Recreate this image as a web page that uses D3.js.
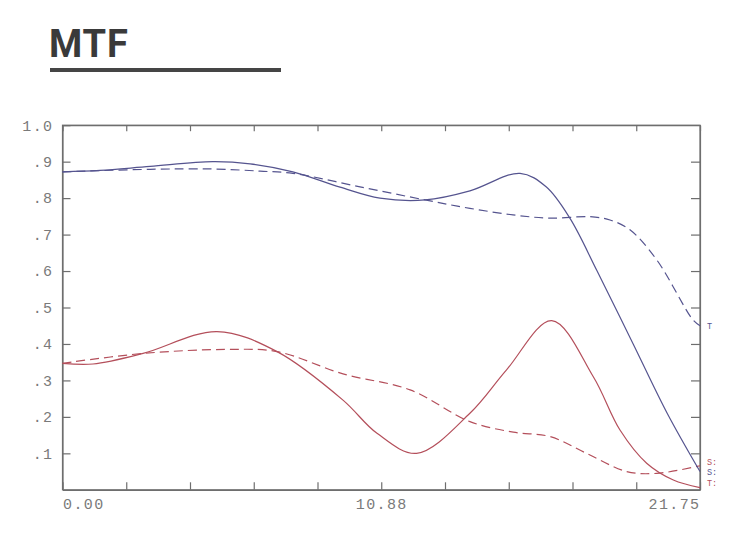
<!DOCTYPE html>
<html>
<head>
<meta charset="utf-8">
<script src="https://cdn.jsdelivr.net/npm/d3@7/dist/d3.min.js"></script>
<style>
  html, body { margin: 0; padding: 0; background: #fff; }
  svg { display: block; }
</style>
</head>
<body>
<svg id="chart" width="751" height="539"></svg>
<script>
// ---- data ----
const title = "MTF";
const xTickValues = [0, 2.175, 4.35, 6.525, 8.7, 10.875, 13.05, 15.225, 17.4, 19.575, 21.75];
const xTickLabels = {0: "0.00", 5: "10.88", 10: "21.75"};
const yTickValues = [0.1, 0.2, 0.3, 0.4, 0.5, 0.6, 0.7, 0.8, 0.9, 1.0];
const yTickLabels = [".1", ".2", ".3", ".4", ".5", ".6", ".7", ".8", ".9", "1.0"];

const blueSolidX = [0, 1.28, 2.99, 5.13, 6.40, 7.86, 9.47, 10.83, 12.37, 13.9, 15.61, 16.5, 17.31, 18.24, 19.47, 20.63, 21.75];
const blueSolidY = [0.872, 0.876, 0.887, 0.900, 0.894, 0.872, 0.830, 0.800, 0.795, 0.820, 0.868, 0.831, 0.745, 0.600, 0.400, 0.210, 0.050];

const blueDashX = [0, 2.99, 5.13, 6.74, 7.86, 10.15, 12.37, 13.9, 15.37, 16.63, 18.0, 18.68, 19.36, 20.28, 21.51, 21.75];
const blueDashY = [0.872, 0.879, 0.880, 0.874, 0.868, 0.831, 0.795, 0.772, 0.754, 0.745, 0.749, 0.740, 0.713, 0.630, 0.466, 0.450];

const redSolidX = [0, 1.04, 2.75, 5.27, 7.32, 9.57, 10.73, 12.08, 13.9, 15.15, 16.69, 18.11, 19.02, 19.93, 20.84, 21.75];
const redSolidY = [0.347, 0.345, 0.374, 0.434, 0.379, 0.246, 0.155, 0.100, 0.210, 0.329, 0.464, 0.310, 0.164, 0.073, 0.027, 0.006];

const redDashX = [0, 2.75, 5.61, 7.32, 9.57, 11.86, 13.9, 15.38, 16.63, 17.88, 19.25, 20.27, 21.75];
const redDashY = [0.347, 0.374, 0.385, 0.379, 0.318, 0.274, 0.187, 0.158, 0.146, 0.100, 0.050, 0.045, 0.066];

const endLabels = [
  {text: "T", value: 0.45, color: "blue"},
  {text: "S:", value: 0.076, color: "red"},
  {text: "S:", value: 0.049, color: "blue"},
  {text: "T:", value: 0.019, color: "red"}
];

// ---- styles ----
const BLUE = "#55548f";
const RED = "#b44f5b";
const AXIS = "#6e6e6e";
const colorOf = c => c === "blue" ? BLUE : RED;

const svg = d3.select("#chart");

// Title
svg.append("text")
  .attr("x", 49).attr("y", 57)
  .attr("font-family", "Roboto, 'Noto Sans', sans-serif")
  .attr("font-weight", 700)
  .attr("font-size", 38)
  .attr("letter-spacing", 0.8)
  .attr("fill", "#3a3a3a")
  .text(title);
svg.append("rect")
  .attr("x", 50).attr("y", 68).attr("width", 231).attr("height", 4)
  .attr("fill", "#454545");

// Scales
const x = d3.scaleLinear().domain([0, 21.75]).range([62.5, 700]);
const y = d3.scaleLinear().domain([0, 1]).range([489.8, 125.2]);

const fontFam = "'Liberation Mono', 'DejaVu Sans Mono', monospace";

// Frame
svg.append("rect")
  .attr("x", x(0)).attr("y", y(1))
  .attr("width", x(21.75) - x(0)).attr("height", y(0) - y(1))
  .attr("fill", "none").attr("stroke", AXIS).attr("stroke-width", 1.2);

// Bottom axis
const gB = svg.append("g").attr("transform", `translate(0,${y(0)})`)
  .call(d3.axisBottom(x).tickValues(xTickValues).tickSizeInner(-7.5).tickSizeOuter(0).tickPadding(9)
    .tickFormat((d, i) => xTickLabels[i] || ""));
gB.selectAll("text")
  .attr("font-family", fontFam).attr("font-size", 15).attr("fill", "#7a7a7a")
  .attr("letter-spacing", 1.4)
  .attr("text-anchor", (d, i) => i === 0 ? "start" : (i === 10 ? "end" : "middle"));

// Top axis
svg.append("g").attr("transform", `translate(0,${y(1)})`)
  .call(d3.axisTop(x).tickValues(xTickValues).tickSizeInner(-6).tickSizeOuter(0).tickFormat(""));

// Left axis
const gL = svg.append("g").attr("transform", `translate(${x(0)},0)`)
  .call(d3.axisLeft(y).tickValues(yTickValues).tickSizeInner(-8).tickSizeOuter(0).tickPadding(9)
    .tickFormat((d, i) => yTickLabels[i]));
gL.selectAll("text")
  .attr("font-family", fontFam).attr("font-size", 15).attr("fill", "#7a7a7a")
  .attr("letter-spacing", 1.4);

// Right axis
svg.append("g").attr("transform", `translate(${x(21.75)},0)`)
  .call(d3.axisRight(y).tickValues(yTickValues.slice(0, 9)).tickSizeInner(-9).tickSizeOuter(0).tickFormat(""));

svg.selectAll(".domain").attr("stroke", AXIS).attr("stroke-width", 1.2);
svg.selectAll(".tick line").attr("stroke", AXIS).attr("stroke-width", 1.2);

// Lines
const line = d3.line().x(d => x(d[0])).y(d => y(d[1])).curve(d3.curveCatmullRom.alpha(0.5));
const series = [
  {xs: redDashX, ys: redDashY, color: RED, dash: "9,5"},
  {xs: redSolidX, ys: redSolidY, color: RED, dash: null},
  {xs: blueDashX, ys: blueDashY, color: BLUE, dash: "9,5"},
  {xs: blueSolidX, ys: blueSolidY, color: BLUE, dash: null}
];
series.forEach(s => {
  svg.append("path")
    .datum(s.xs.map((v, i) => [v, s.ys[i]]))
    .attr("d", line)
    .attr("fill", "none")
    .attr("stroke", s.color)
    .attr("stroke-width", 1.2)
    .attr("stroke-dasharray", s.dash);
});

// End labels
svg.selectAll(".endlab").data(endLabels).enter().append("text")
  .attr("class", "endlab")
  .attr("x", 707)
  .attr("y", d => y(d.value))
  .attr("dy", "0.35em")
  .attr("font-family", fontFam)
  .attr("font-size", 8.5)
  .attr("fill", d => colorOf(d.color))
  .text(d => d.text);
</script>
</body>
</html>
